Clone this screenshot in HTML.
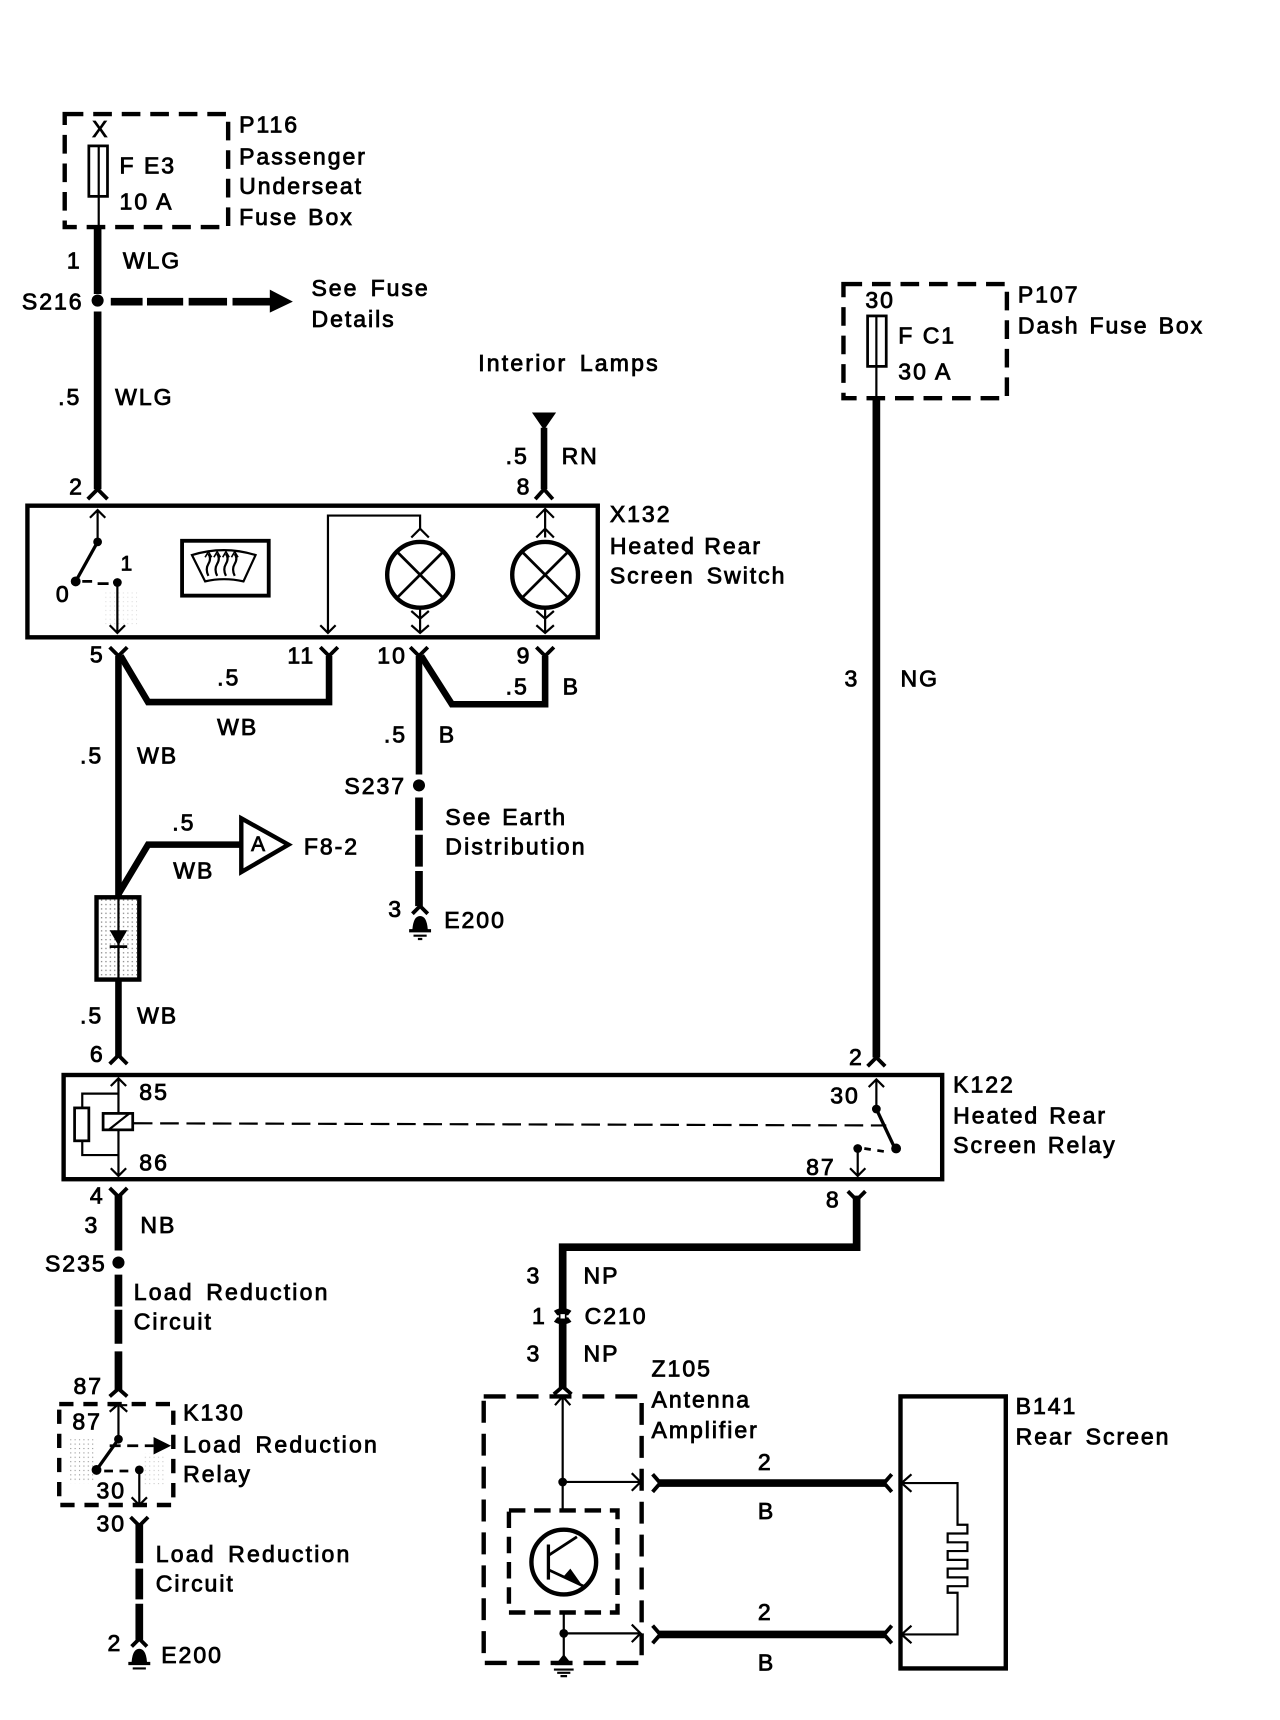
<!DOCTYPE html>
<html>
<head>
<meta charset="utf-8">
<style>
html,body{margin:0;padding:0;background:#fff}
svg{display:block;width:1280px;height:1720px}
text{font-family:"Liberation Sans",sans-serif;font-size:21px;letter-spacing:1.8px;word-spacing:3.5px;fill:#000;stroke:#000;stroke-width:.75px}
.s{font-size:19px;letter-spacing:1px}
.n{word-spacing:0}
.m{word-spacing:1.5px}
.w{letter-spacing:2px;word-spacing:3.5px}
</style>
</head>
<body>
<svg xmlns="http://www.w3.org/2000/svg" viewBox="0 0 1167 1568" preserveAspectRatio="none">
<defs>
<pattern id="dots" width="4" height="4" patternUnits="userSpaceOnUse"><rect width="1.2" height="1.2" fill="#555"/></pattern>
<pattern id="dots2" width="4" height="4" patternUnits="userSpaceOnUse"><rect width="1" height="1" fill="#777"/></pattern>
</defs>
<rect width="1167" height="1568" fill="#fff"/>

<!-- boxes: solid -->
<g fill="none" stroke="#000" stroke-width="4">
<rect x="25" y="461" width="520" height="120"/>
<rect x="58" y="980" width="801" height="95"/>
<rect x="821" y="1273" width="96" height="248"/>
</g>
<!-- boxes: dashed -->
<g fill="none" stroke="#000" stroke-width="4" stroke-dasharray="17 9">
<rect x="59" y="104" width="149" height="103"/>
<rect x="769" y="259" width="149" height="104"/>
<rect x="54" y="1280" width="104" height="92" stroke-dasharray="13 9"/>
<rect x="441" y="1273" width="144" height="243" stroke-dasharray="20 10"/>
<rect x="464" y="1377" width="99" height="93" stroke-dasharray="15 8"/>
</g>

<!-- shading -->
<rect x="62" y="1312" width="26" height="40" fill="url(#dots2)" opacity=".8"/>
<rect x="130" y="1325" width="20" height="30" fill="url(#dots2)" opacity=".4"/>
<rect x="95" y="540" width="30" height="30" fill="url(#dots2)" opacity=".25"/>

<!-- thick wires -->
<g fill="none" stroke="#000" stroke-width="7" stroke-linejoin="miter">
<path d="M89 207V268"/>
<path d="M89 284V446"/>
<path d="M496 390V446" stroke-width="6"/>
<path d="M101 275H130M134 275H167M172 275H207M212 275H248"/>
<path d="M799 363V964"/>
<path d="M108 598V818" stroke-width="6"/>
<path d="M110 598L135 640H300V598" stroke-width="6"/>
<path d="M382 598V706" stroke-width="6"/>
<path d="M384 598L412 642H497V598" stroke-width="6"/>
<path d="M382 727V757M382 761V790M382 794V826"/>
<path d="M108 815L135 770H220" stroke-width="6"/>
<path d="M108 893V964" stroke-width="6"/>
<path d="M108 1090V1140"/>
<path d="M108 1162V1191M108 1194V1225M108 1232V1268"/>
<path d="M127 1390V1425M127 1430V1458M127 1462V1495"/>
<path d="M781 1090V1137H513V1266"/>
<path d="M600 1352H808M600 1490H808" stroke-width="7"/>
</g>

<!-- arrowheads -->
<path d="M246 264L267 275L246 285Z"/>
<path d="M485 376H507L496 392Z"/>
<path d="M140 1310L156 1318L140 1326Z"/>

<!-- outer forks -->
<g fill="none" stroke="#000" stroke-width="3.5">
<path d="M80 455L89 446L98 455"/>
<path d="M488 455L496 446L504 455"/>
<path d="M100 970L108 962L116 970"/>
<path d="M791 972L799 964L807 972"/>
<path d="M100 1273L108 1266L116 1273"/>
<path d="M505 1271L513 1264L521 1271"/>
<path d="M376 833L383 826L390 833"/>
<path d="M120 1501L127 1494L134 1501"/>
<path d="M100 590L108 598L116 590"/>
<path d="M292 590L300 598L308 590"/>
<path d="M374 590L382 598L390 590"/>
<path d="M489 590L497 598L505 590"/>
<path d="M100 1083L108 1091L116 1083"/>
<path d="M119 1383L127 1391L135 1383"/>
<path d="M773 1086L781 1094L789 1086"/>
<path d="M595 1344L602 1352L595 1360"/>
<path d="M595 1482L602 1490L595 1498"/>
<path d="M813 1344L806 1352L813 1360"/>
<path d="M813 1482L806 1490L813 1498"/>
</g>

<!-- fuses -->
<g fill="#fff" stroke="#000" stroke-width="2.5">
<rect x="81" y="133" width="17" height="46"/>
<rect x="791" y="288" width="17" height="46"/>
</g>
<path d="M90 133V207M799 288V363" stroke="#000" stroke-width="2" fill="none"/>

<!-- X132 internals -->
<g fill="none" stroke="#000" stroke-width="2">
<path d="M89 494V465M82 472L89 465L96 472"/>
<path d="M107 531V577M100 570L107 577L114 570"/>
<path d="M299 577V470H383V482M292 570L299 577L306 570M375 490L383 482L391 490"/>
<path d="M383 553V577M375 557L383 564L391 557M375 570L383 577L391 570"/>
<path d="M497 464V490M489 472L497 464L505 472M489 490L497 482L505 490"/>
<path d="M497 553V577M489 557L497 564L505 557M489 570L497 577L505 570"/>
</g>
<path d="M89 494L69 530" stroke="#000" stroke-width="3" fill="none"/>
<path d="M75 530H84M89 532H99" stroke="#000" stroke-width="2.5" fill="none"/>
<circle cx="89" cy="494" r="4"/><circle cx="69" cy="530" r="4.5"/><circle cx="107" cy="531" r="4"/>
<g fill="#fff" stroke="#000">
<circle cx="383" cy="524" r="30" stroke-width="4"/>
<circle cx="497" cy="524" r="30" stroke-width="4"/>
</g>
<path d="M362 503L404 545M404 503L362 545M476 503L518 545M518 503L476 545" stroke="#000" stroke-width="2.5" fill="none"/>
<rect x="166" y="493" width="79" height="50" fill="none" stroke="#000" stroke-width="3.5"/>
<path d="M175 506Q204 497 233 506L222 530Q204 526 187 530Z" fill="none" stroke="#000" stroke-width="2"/>
<path d="M190 525Q187 519 190 514T190 505M198 525Q195 519 198 514T198 505M206 525Q203 519 206 514T206 505M214 525Q211 519 214 514T214 505" fill="none" stroke="#000" stroke-width="2"/>
<path d="M187 508L190 503L193 508M195 508L198 503L201 508M203 508L206 503L209 508M211 508L214 503L217 508" fill="none" stroke="#000" stroke-width="1.5"/>

<!-- splices -->
<circle cx="89" cy="274" r="5.5"/>
<circle cx="382" cy="716" r="5.5"/>
<circle cx="108" cy="1151" r="5.5"/>

<!-- grounds -->
<path d="M376 847Q377 835 383 835Q389 835 390 847ZM373 847H393V850H373ZM377 852H389V854H377ZM381 855H385V857H381Z"/>
<path d="M120 1515Q121 1503 127 1503Q133 1503 134 1515ZM117 1515H137V1518H117ZM121 1520H133V1522H121Z"/>

<!-- triangle + diode -->
<path d="M220 746L263 770L220 795Z" fill="#fff" stroke="#000" stroke-width="4"/>
<rect x="88" y="818" width="39" height="75" fill="#fff" stroke="#000" stroke-width="4"/>
<rect x="90" y="820" width="35" height="71" fill="url(#dots)" opacity=".7"/>
<path d="M108 818V893" stroke="#000" stroke-width="2" fill="none"/>
<path d="M100 848H116L108 862Z"/>
<path d="M100 863H116" stroke="#000" stroke-width="2.5" fill="none"/>

<!-- K122 internals -->
<g fill="none" stroke="#000" stroke-width="2">
<path d="M108 983V1072M101 990L108 983L115 990M101 1065L108 1072L115 1065"/>
<path d="M75 1010V997H108M75 1040V1053H108"/>
<rect x="68" y="1010" width="13" height="30" fill="#fff" stroke-width="2.5"/>
<rect x="94" y="1015" width="27" height="15" fill="#fff" stroke-width="2.5"/>
<path d="M99 1030L118 1015"/>
<path d="M122 1024L808 1026" stroke-dasharray="17 7"/>
<path d="M799 1011V984M792 991L799 984L806 991"/>
<path d="M782 1047V1072M775 1065L782 1072L789 1065"/>
<path d="M799 1011L815 1045" stroke-width="3"/>
<path d="M788 1047L808 1050" stroke-width="2.5" stroke-dasharray="6 6"/>
</g>
<circle cx="799" cy="1011" r="4"/><circle cx="817" cy="1047" r="4.5"/><circle cx="782" cy="1047" r="4"/>

<!-- K130 internals -->
<g fill="none" stroke="#000" stroke-width="2">
<path d="M108 1312V1280M100 1287L108 1280L116 1287M100 1281H116"/>
<path d="M127 1340V1372M120 1365L127 1372L134 1365"/>
<path d="M108 1312L88 1340" stroke-width="3"/>
<path d="M100 1318H140" stroke-width="2.5" stroke-dasharray="10 6"/>
<path d="M95 1341H122" stroke-width="2.5" stroke-dasharray="8 6"/>
</g>
<circle cx="108" cy="1312" r="4"/><circle cx="88" cy="1340" r="4.5"/><circle cx="127" cy="1340" r="4"/>

<!-- C210 -->
<path d="M505 1195Q513 1190 521 1195L518 1199H508Z M505 1205Q513 1210 521 1205L518 1201H508Z"/>
<rect x="511" y="1198" width="4" height="4" fill="#fff"/>

<!-- Z105 internals -->
<g fill="none" stroke="#000" stroke-width="2">
<path d="M513 1273V1377M506 1281L513 1273L520 1281"/>
<path d="M513 1351H584M576 1343L584 1351L576 1359"/>
<path d="M514 1470V1516"/>
<path d="M514 1489H584M576 1481L584 1489L576 1497"/>
<path d="M505 1522H523M508 1525H520M511 1528H517"/>
<path d="M500 1408V1440" stroke-width="3"/>
<path d="M500 1418L526 1401M500 1431L532 1446" stroke-width="2.5"/>
</g>
<circle cx="513" cy="1351" r="4"/><circle cx="514" cy="1489" r="4"/>
<circle cx="514" cy="1424" r="29.5" fill="none" stroke="#000" stroke-width="4"/>
<path d="M514 1437L520 1430L532 1447Z"/>
<path d="M506 1518L514 1508L522 1518Z"/>

<!-- Rear screen element -->
<path d="M831 1344L822 1352L831 1360M822 1352H873V1390H882V1398H864V1406H882V1414H864V1422H882V1430H864V1438H882V1446H864V1452H873V1490H822M831 1482L822 1490L831 1498" fill="none" stroke="#000" stroke-width="2"/>

<!-- text -->
<text x="84" y="125">X</text>
<text class="n" x="109" y="158">F E3</text>
<text class="n" x="109" y="191">10 A</text>
<text x="218" y="121">P116</text>
<text x="218" y="150">Passenger</text>
<text x="218" y="177">Underseat</text>
<text class="m" x="218" y="205">Fuse Box</text>
<text x="61" y="245">1</text>
<text x="112" y="245">WLG</text>
<text x="20" y="282">S216</text>
<text x="284" y="270">See Fuse</text>
<text x="284" y="298">Details</text>
<text x="53" y="369">.5</text>
<text x="105" y="369">WLG</text>
<text x="63" y="451">2</text>
<text class="w" x="436" y="338">Interior Lamps</text>
<text x="461" y="423">.5</text>
<text x="512" y="423">RN</text>
<text x="471" y="451">8</text>
<text x="556" y="476">X132</text>
<text class="n" x="556" y="505">Heated Rear</text>
<text x="556" y="532">Screen Switch</text>
<text class="s" x="110" y="520">1</text>
<text x="51" y="549">0</text>
<text x="82" y="604">5</text>
<text x="262" y="605">11</text>
<text x="344" y="605">10</text>
<text x="471" y="605">9</text>
<text x="198" y="625">.5</text>
<text x="198" y="670">WB</text>
<text x="461" y="633">.5</text>
<text x="513" y="633">B</text>
<text x="350" y="677">.5</text>
<text x="400" y="677">B</text>
<text x="73" y="696">.5</text>
<text x="125" y="696">WB</text>
<text x="314" y="724">S237</text>
<text class="m" x="406" y="752">See Earth</text>
<text class="w" x="406" y="779">Distribution</text>
<text x="157" y="757">.5</text>
<text x="158" y="801">WB</text>
<text class="s" x="229" y="776">A</text>
<text x="277" y="779">F8-2</text>
<text x="354" y="836">3</text>
<text x="405" y="846">E200</text>
<text x="73" y="933">.5</text>
<text x="125" y="933">WB</text>
<text x="82" y="968">6</text>
<text x="774" y="971">2</text>
<text x="770" y="626">3</text>
<text x="821" y="626">NG</text>
<text x="789" y="281">30</text>
<text class="n" x="819" y="313">F C1</text>
<text class="n" x="819" y="346">30 A</text>
<text x="928" y="276">P107</text>
<text class="m" x="928" y="304">Dash Fuse Box</text>
<text x="127" y="1003">85</text>
<text x="127" y="1067">86</text>
<text x="757" y="1006">30</text>
<text x="735" y="1071">87</text>
<text x="869" y="996">K122</text>
<text class="m" x="869" y="1024">Heated Rear</text>
<text class="m" x="869" y="1051">Screen Relay</text>
<text x="82" y="1097">4</text>
<text x="77" y="1124">3</text>
<text x="128" y="1124">NB</text>
<text x="41" y="1159">S235</text>
<text class="w" x="122" y="1185">Load Reduction</text>
<text x="122" y="1212">Circuit</text>
<text x="67" y="1271">87</text>
<text x="66" y="1303">87</text>
<text x="167" y="1295">K130</text>
<text class="w" x="167" y="1324">Load Reduction</text>
<text x="167" y="1351">Relay</text>
<text x="88" y="1366">30</text>
<text x="88" y="1396">30</text>
<text class="w" x="142" y="1424">Load Reduction</text>
<text x="142" y="1451">Circuit</text>
<text x="98" y="1505">2</text>
<text x="147" y="1516">E200</text>
<text x="753" y="1101">8</text>
<text x="480" y="1170">3</text>
<text x="532" y="1170">NP</text>
<text x="485" y="1207">1</text>
<text x="533" y="1207">C210</text>
<text x="480" y="1241">3</text>
<text x="532" y="1241">NP</text>
<text x="594" y="1255">Z105</text>
<text x="594" y="1283">Antenna</text>
<text x="594" y="1311">Amplifier</text>
<text x="691" y="1340">2</text>
<text x="691" y="1385">B</text>
<text x="691" y="1477">2</text>
<text x="691" y="1523">B</text>
<text x="926" y="1289">B141</text>
<text x="926" y="1317">Rear Screen</text>
</svg>
</body>
</html>
